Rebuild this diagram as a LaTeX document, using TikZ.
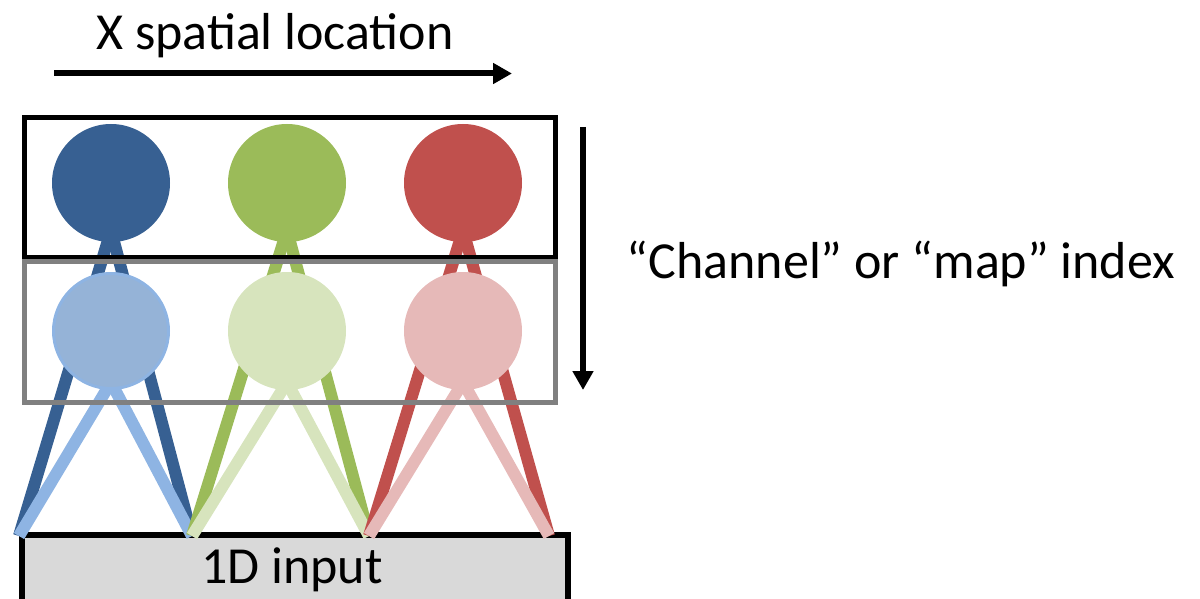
\documentclass[tikz,border=0pt]{standalone}
\usepackage{fontspec}
\setmainfont{Carlito}
\usetikzlibrary{arrows.meta}
\definecolor{dblue}{HTML}{376092}
\definecolor{dgreen}{HTML}{9BBB59}
\definecolor{dred}{HTML}{C0504D}
\definecolor{lbluefill}{HTML}{95B3D7}
\definecolor{lblue}{HTML}{8EB4E3}
\definecolor{lgreen}{HTML}{D7E4BD}
\definecolor{lred}{HTML}{E6B9B8}
\definecolor{boxgray}{HTML}{808080}
\definecolor{inputfill}{HTML}{D9D9D9}
\tikzset{
  unit/.style={circle, minimum size=118pt, inner sep=0pt},
  link/.style={line width=12pt, line cap=butt},
  bigarrow/.style={line width=6pt, -{Triangle[length=19pt,width=20pt]}},
  lbl/.style={font=\fontsize{52}{60}\selectfont, inner sep=0pt, anchor=base},
  layerbox/.style={line width=5pt},
}
\begin{document}
\begin{tikzpicture}[x=1pt,y=-1pt]
\useasboundingbox (0,0) rectangle (1200,599);
% input box
\node[draw=black, line width=5.5pt, fill=inputfill, minimum width=546pt, minimum height=80pt, inner sep=0pt, anchor=north west] (input) at (19,532) {};
\node[lbl] (inlabel) at (292,583) {1D input};
% endpoints on input
\coordinate (p0) at (19,536);
\coordinate (p1) at (192,536);
\coordinate (p2) at (369,536);
\coordinate (p3) at (549,536);
% circle positions
\path (111,183) node[unit] (t1) {} (287,183) node[unit] (t2) {} (463,183) node[unit] (t3) {};
\path (111,331) node[unit] (b1) {} (287,331) node[unit] (b2) {} (463,331) node[unit] (b3) {};
% links
\draw[link, dblue] ([yshift=12pt]t1.south) -- (p0);
\draw[link, dblue] ([yshift=12pt]t1.south) -- (p1);
\draw[link, lblue] ([yshift=8pt]b1.south) -- (p0);
\draw[link, lblue] ([yshift=8pt]b1.south) -- (p1);
\draw[link, dgreen] ([yshift=12pt]t2.south) -- (p1);
\draw[link, dgreen] ([yshift=12pt]t2.south) -- (p2);
\draw[link, lgreen] ([yshift=8pt]b2.south) -- (p1);
\draw[link, lgreen] ([yshift=8pt]b2.south) -- (p2);
\draw[link, dred] ([yshift=12pt]t3.south) -- (p2);
\draw[link, dred] ([yshift=12pt]t3.south) -- (p3);
\draw[link, lred] ([yshift=8pt]b3.south) -- (p2);
\draw[link, lred] ([yshift=8pt]b3.south) -- (p3);
% circles
\node[unit, fill=dblue] at (t1) {};
\node[unit, fill=dgreen] at (t2) {};
\node[unit, fill=dred] at (t3) {};
\node[unit, fill=lbluefill, draw=lblue, line width=3pt, minimum size=115pt] at (b1) {};
\node[unit, fill=lgreen] at (b2) {};
\node[unit, fill=lred] at (b3) {};
% layer boxes
\draw[layerbox, black] (24,117.5) rectangle (555,257);
\draw[layerbox, boxgray] (24,261) rectangle (555,402);
% axes
\coordinate (xa) at (54,73.5);
\coordinate (xb) at (512,73.5);
\draw[bigarrow] (xa) -- (xb);
\node[lbl] (xlabel) at (275,50) {X spatial location};
\coordinate (ya) at (583,127);
\coordinate (yb) at (583,390);
\draw[bigarrow] (ya) -- (yb);
\node[lbl] (ylabel) at (901,278) {“Channel” or “map” index};
\end{tikzpicture}
\end{document}
